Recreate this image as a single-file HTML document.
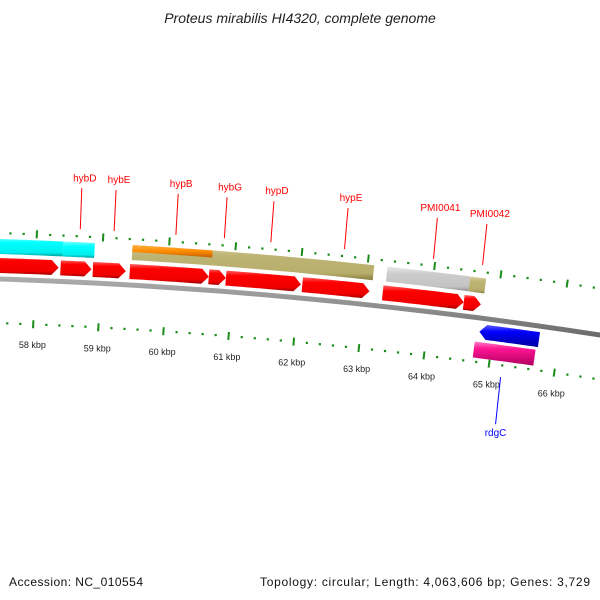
<!DOCTYPE html>
<html><head><meta charset="utf-8"><style>
html,body{margin:0;padding:0;background:#fff;}
svg{display:block;font-family:"Liberation Sans",sans-serif;}
</style></head><body>
<svg id="c" width="600" height="600" viewBox="0 0 600 600">
<defs>
<linearGradient id="gRed" x1="0" y1="0" x2="0" y2="1"><stop offset="0" stop-color="#ff6060"/><stop offset="0.25" stop-color="#ff0000"/><stop offset="0.8" stop-color="#f00000"/><stop offset="1" stop-color="#a00000"/></linearGradient>
<linearGradient id="gCyan" x1="0" y1="0" x2="0" y2="1"><stop offset="0" stop-color="#80ffff"/><stop offset="0.3" stop-color="#00ffff"/><stop offset="0.8" stop-color="#00eeee"/><stop offset="1" stop-color="#00a0a0"/></linearGradient>
<linearGradient id="gOlive" x1="0" y1="0" x2="0" y2="1"><stop offset="0" stop-color="#d8d0a0"/><stop offset="0.3" stop-color="#bdb474"/><stop offset="0.8" stop-color="#b8ae6c"/><stop offset="1" stop-color="#857c40"/></linearGradient>
<linearGradient id="gOrange" x1="0" y1="0" x2="0" y2="1"><stop offset="0" stop-color="#ffb040"/><stop offset="0.5" stop-color="#ff8c00"/><stop offset="1" stop-color="#c06000"/></linearGradient>
<linearGradient id="gGray" x1="0" y1="0" x2="0" y2="1"><stop offset="0" stop-color="#e8e8e8"/><stop offset="0.3" stop-color="#cccccc"/><stop offset="0.8" stop-color="#c4c4c4"/><stop offset="1" stop-color="#909090"/></linearGradient>
<linearGradient id="gBlue" x1="0" y1="0" x2="0" y2="1"><stop offset="0" stop-color="#6060ff"/><stop offset="0.3" stop-color="#0000ff"/><stop offset="1" stop-color="#0000a0"/></linearGradient>
<linearGradient id="gPink" x1="0" y1="0" x2="0" y2="1"><stop offset="0" stop-color="#ff80c8"/><stop offset="0.3" stop-color="#ff1493"/><stop offset="1" stop-color="#b00060"/></linearGradient>
<linearGradient id="gBack" x1="0" y1="0" x2="0" y2="1"><stop offset="0" stop-color="#b0b0b0"/><stop offset="0.5" stop-color="#888"/><stop offset="1" stop-color="#555"/></linearGradient>
</defs>
<text x="300" y="23" text-anchor="middle" font-size="14" font-style="italic" fill="#222">Proteus mirabilis HI4320, complete genome</text>
<g id="marks"></g>
<g id="annot"></g>
<text x="9" y="586" font-size="12" textLength="134" fill="#111">Accession: NC_010554</text>
<text x="260" y="586" font-size="12" textLength="330" fill="#111">Topology: circular; Length: 4,063,606 bp; Genes: 3,729</text>
</svg>
<script>
// data (kbp)
const fwdGeneStarts = [56.0, 58.38, 58.87, 59.43, 60.63, 60.89, 62.05, 63.27, 64.5];
const fwdGeneEnds   = [58.35, 58.85, 59.37, 60.63, 60.89, 62.03, 63.07, 64.5, 64.76];
const featStarts = [56.0, 58.4, 59.45, 63.3, 64.55];
const featEnds   = [58.4, 58.88, 63.1, 64.55, 64.79];
const featKinds  = ['cyan', 'cyan', 'olive', 'gray', 'olive'];
const orangeStart = 59.45, orangeEnd = 60.66;
const revGeneStart = 64.79, revGeneEnd = 65.7;
const pinkStart = 64.74, pinkEnd = 65.67;
const tickLabels = [58, 59, 60, 61, 62, 63, 64, 65, 66];
const geneLabels = ['hybD','hybE','hypB','hybG','hypD','hypE','PMI0041','PMI0042'];
const geneLabelPos = [58.65, 59.16, 60.09, 60.82, 61.52, 62.63, 63.97, 64.71];
const rdgCLabelPos = 65.2;

const NS='http://www.w3.org/2000/svg';
const g=document.getElementById('marks'), ga=document.getElementById('annot');
function xb(k){return 35+(k-58)*65.7;}
function P(k,off){const x=xb(k);const s=0.0333+2e-4*x;const y=279+0.0333*x+1e-4*x*x;const n=Math.sqrt(1+s*s);return [x-s*off/n,y+off/n];}
function band(k1,k2,o1,o2){const pts=[];const N=20;for(let i=0;i<=N;i++)pts.push(P(k1+(k2-k1)*i/N,o1));for(let i=N;i>=0;i--)pts.push(P(k1+(k2-k1)*i/N,o2));return pts;}
function arrow(k1,k2,o1,o2,dir){const head=7/65.7;const pts=[];const N=20;
 if(dir>0){const ke=k2-head;for(let i=0;i<=N;i++)pts.push(P(k1+(ke-k1)*i/N,o1));pts.push(P(k2,(o1+o2)/2));for(let i=N;i>=0;i--)pts.push(P(k1+(ke-k1)*i/N,o2));}
 else{const ks=k1+head;pts.push(P(k1,(o1+o2)/2));for(let i=0;i<=N;i++)pts.push(P(ks+(k2-ks)*i/N,o1));for(let i=N;i>=0;i--)pts.push(P(ks+(k2-ks)*i/N,o2));}
 return pts;}
function poly(pts,fill,name){const p=document.createElementNS(NS,'polygon');p.setAttribute('points',pts.map(a=>a[0].toFixed(1)+','+a[1].toFixed(1)).join(' '));p.setAttribute('fill',fill);


g.appendChild(p);return p;}
function rect(x,y,w,h,fill,name){const r=document.createElementNS(NS,'rect');r.setAttribute('x',x);r.setAttribute('y',y);r.setAttribute('width',w);r.setAttribute('height',h);r.setAttribute('fill',fill);


g.appendChild(r);}
function line(a,b,col,w,name,parent){const l=document.createElementNS(NS,'line');l.setAttribute('x1',a[0]);l.setAttribute('y1',a[1]);l.setAttribute('x2',b[0]);l.setAttribute('y2',b[1]);l.setAttribute('stroke',col);l.setAttribute('stroke-width',w);


(parent||g).appendChild(l);}
function text(x,y,s,col,size,name,anchor){const t=document.createElementNS(NS,'text');t.setAttribute('x',x);t.setAttribute('y',y);t.setAttribute('fill',col);t.setAttribute('font-size',size);t.setAttribute('text-anchor',anchor||'middle');t.textContent=s;


ga.appendChild(t);}

// backbone
poly(band(55,68,-2.5,2.5),'url(#gBack)','backbone');
// tick rings
for(let k=55.0;k<=68.0;k+=0.2){const kk=Math.round(k*10)/10;const major=Math.abs(kk-Math.round(kk))<0.01;
 [[-46,'outer'],[44,'inner']].forEach(([o,r])=>{
  if(major){line(P(kk,o-4),P(kk,o+4),'#1a8c1a',2,r+'-major-tick');}
  else{const c=P(kk,o);rect(c[0]-1,c[1]-1,2.2,2.2,'#1a8c1a',r+'-minor-tick');}
 });}
tickLabels.forEach(k=>{const c=P(k,65);text(c[0],c[1]+3,k+' kbp','#222',9,'tick-label-'+k+'kbp');});
// feature track
featStarts.forEach((s,i)=>{const f={cyan:'url(#gCyan)',olive:'url(#gOlive)',gray:'url(#gGray)'}[featKinds[i]];poly(band(s,featEnds[i],-40,-25),f,featKinds[i]+'-feature-'+i);});
poly(band(orangeStart,orangeEnd,-40,-33),'url(#gOrange)','orange-feature');
// forward genes
fwdGeneStarts.forEach((s,i)=>{poly(arrow(s,fwdGeneEnds[i],-21,-6,1),'url(#gRed)','forward-gene-'+i);});
// reverse genes
poly(arrow(revGeneStart,revGeneEnd,6,21,-1),'url(#gBlue)','rdgC-gene');
poly(band(pinkStart,pinkEnd,24,40),'url(#gPink)','rdgC-feature');
// gene labels
geneLabels.forEach((nm,i)=>{const k=geneLabelPos[i];const a=P(k,-53);const b=[a[0]+1.5+i*0.4,a[1]-41];line(a,b,'#ff0000',1,'leader-'+nm,ga);text(b[0]+3,b[1]-7,nm,'#ff0000',10,'gene-label-'+nm);});
{const a=P(rdgCLabelPos,56);const b=[a[0]-5,a[1]+47];line(a,b,'#0000ff',1,'leader-rdgC',ga);text(b[0],b[1]+12,'rdgC','#0000ff',10,'gene-label-rdgC');}
</script>
</body></html>
